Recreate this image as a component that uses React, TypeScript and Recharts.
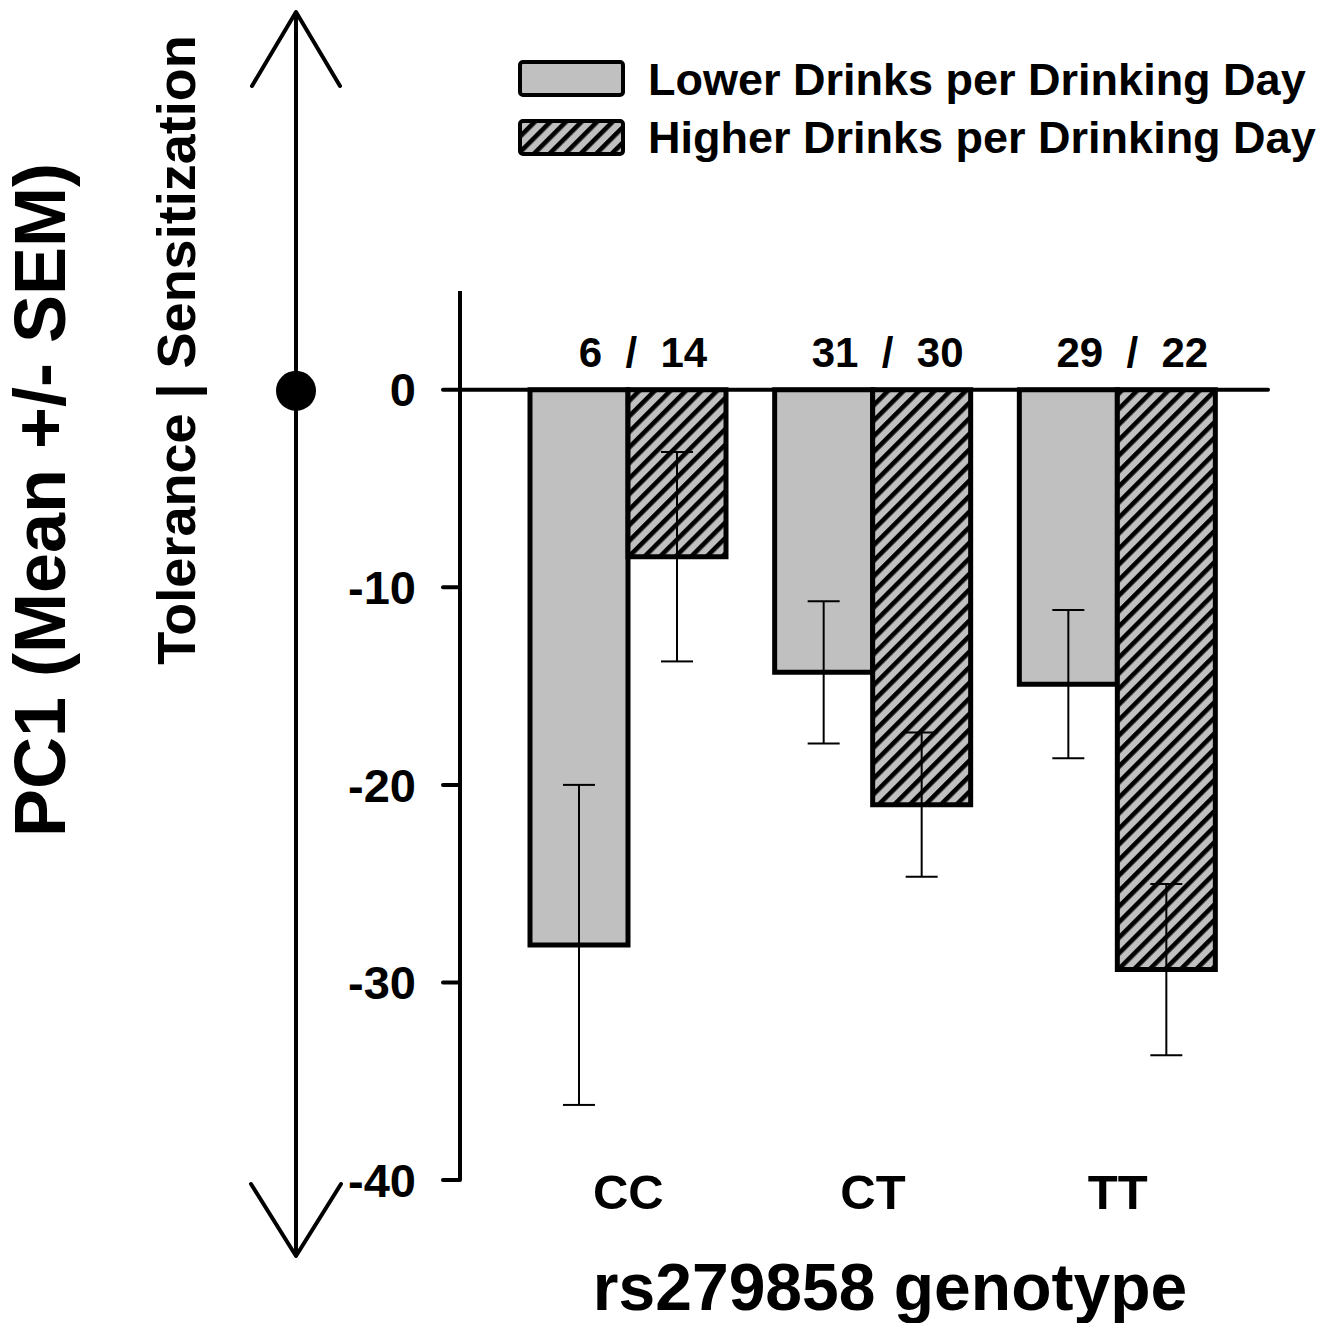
import React from 'react';
import { ComposedChart, Bar, XAxis, YAxis, ErrorBar, ReferenceLine, LabelList } from 'recharts';

const categories = ['CC', 'CT', 'TT'];
const lowerMeans = [-28.1, -14.3, -14.9];
const lowerSem = [8.1, 3.6, 3.75];
const higherMeans = [-8.45, -21.0, -29.35];
const higherSem = [5.3, 3.65, 4.33];
const lowerN = [6, 31, 29];
const higherN = [14, 30, 22];
const yTicks = [0, -10, -20, -30, -40];
const seriesNames = ['Lower Drinks per Drinking Day', 'Higher Drinks per Drinking Day'];

const data = categories.map((c, i) => ({
  cat: c,
  lower: lowerMeans[i],
  lowerErr: lowerSem[i],
  higher: higherMeans[i],
  higherErr: higherSem[i],
  nLabel: `${lowerN[i]}  /  ${higherN[i]}`,
}));

const FONT = '"Liberation Sans", Arial, sans-serif';
const GRAY = '#c0c0c0';

const CountLabel = (props: any) => {
  const vb = props.viewBox || props;
  const x = vb.x ?? props.x;
  const y = vb.y ?? props.y;
  const w = vb.width ?? props.width;
  const h = vb.height ?? props.height;
  const top = Math.min(y, y + h);
  return (
    <text
      x={x + w + 15}
      y={top - 23}
      textAnchor="middle"
      fontFamily={FONT}
      fontWeight="bold"
      fontSize={42}
      fill="#000"
      xmlSpace="preserve"
      style={{ whiteSpace: 'pre' }}
    >
      {props.value}
    </text>
  );
};

const CatTick = (props: any) => {
  const { x, y, payload } = props;
  return (
    <text x={x} y={y + 29} textAnchor="middle" fontFamily={FONT} fontWeight="bold" fontSize={49} fill="#000">
      {payload.value}
    </text>
  );
};

const ZeroLine = (p: any) => {
  const y = p.y1 ?? 390;
  return (
    <g>
      <line x1={p.x1} y1={y} x2={p.x2} y2={p.y2 ?? y} stroke="#000" strokeWidth={4} strokeLinecap="round" />
      <circle cx={296} cy={y + 1} r={20} fill="#000" />
    </g>
  );
};

export default function App() {
  return (
    <div style={{ position: 'absolute', left: 0, top: 0, width: 1329, height: 1323, background: '#fff' }}>
      <ComposedChart
        width={1329}
        height={1323}
        data={data}
        margin={{ top: 291, right: 61, bottom: 113, left: 0 }}
        barGap={0}
      >
        <defs>
          <pattern id="hatch" patternUnits="userSpaceOnUse" width="11" height="11" patternTransform="rotate(45)">
            <rect width="11" height="11" fill={GRAY} />
            <rect x="0" y="0" width="4.6" height="11" fill="#000" />
          </pattern>
        </defs>
        <XAxis
          dataKey="cat"
          axisLine={false}
          tickLine={false}
          tickSize={0}
          tickMargin={0}
          height={30}
          interval={0}
          padding={{ left: 46, right: 28 }}
          tick={<CatTick />}
        />
        <YAxis
          type="number"
          domain={[-40, 5]}
          ticks={yTicks}
          width={460}
          axisLine={{ stroke: '#000', strokeWidth: 4 }}
          tickLine={{ stroke: '#000', strokeWidth: 4, strokeLinecap: 'round' }}
          tickSize={17}
          tickMargin={27}
          tick={{ fontFamily: FONT, fontWeight: 'bold', fontSize: 47, fill: '#000' }}
          allowDataOverflow
        />
        <Bar dataKey="lower" barSize={98} fill={GRAY} stroke="#000" strokeWidth={5} isAnimationActive={false}>
          <ErrorBar dataKey="lowerErr" width={16} stroke="#000" strokeWidth={2} direction="y" />
          <LabelList dataKey="nLabel" content={<CountLabel />} />
        </Bar>
        <Bar dataKey="higher" barSize={98} fill="url(#hatch)" stroke="#000" strokeWidth={5} isAnimationActive={false}>
          <ErrorBar dataKey="higherErr" width={16} stroke="#000" strokeWidth={2} direction="y" />
        </Bar>
        <ReferenceLine y={0} shape={<ZeroLine />} ifOverflow="visible" />
      </ComposedChart>
      <svg
        width={1329}
        height={1323}
        style={{ position: 'absolute', left: 0, top: 0, pointerEvents: 'none' }}
      >
        <defs>
          <pattern id="hatchLegend" patternUnits="userSpaceOnUse" width="11" height="11" patternTransform="rotate(45)">
            <rect width="11" height="11" fill={GRAY} />
            <rect x="0" y="0" width="4.6" height="11" fill="#000" />
          </pattern>
        </defs>
        <line x1={296} y1={12} x2={296} y2={1256} stroke="#000" strokeWidth={4} />
        <polyline points="252,86 296,12 340,86" fill="none" stroke="#000" strokeWidth={4} strokeLinecap="round" strokeLinejoin="round" />
        <polyline points="251,1184 296,1256 341,1184" fill="none" stroke="#000" strokeWidth={4} strokeLinecap="round" strokeLinejoin="round" />
        <text transform="translate(65,500) rotate(-90)" textAnchor="middle" fontFamily={FONT} fontWeight="bold" fontSize={72} fill="#000">
          PC1 (Mean +/- SEM)
        </text>
        <text transform="translate(195,350) rotate(-90)" textAnchor="middle" fontFamily={FONT} fontWeight="bold" fontSize={54} fill="#000">
          Tolerance | Sensitization
        </text>
        <text x={890} y={1310} textAnchor="middle" fontFamily={FONT} fontWeight="bold" fontSize={66} fill="#000">
          rs279858 genotype
        </text>
        <rect x={520} y={62} width={103} height={33} rx={3} fill={GRAY} stroke="#000" strokeWidth={4} />
        <text x={648} y={95} fontFamily={FONT} fontWeight="bold" fontSize={45} fill="#000">{seriesNames[0]}</text>
        <rect x={520} y={121} width={103} height={33} rx={3} fill="url(#hatchLegend)" stroke="#000" strokeWidth={4} />
        <text x={648} y={153} fontFamily={FONT} fontWeight="bold" fontSize={45} fill="#000">{seriesNames[1]}</text>
      </svg>
    </div>
  );
}
